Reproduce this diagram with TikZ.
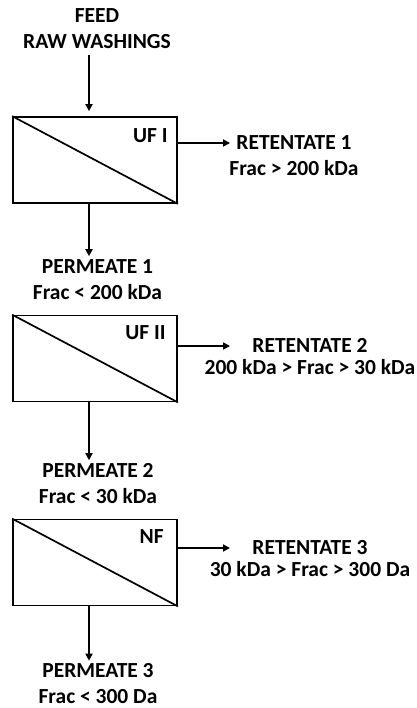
\documentclass[tikz,border=0pt]{standalone}
\usepackage{fontspec}
\setmainfont{Carlito}
\usetikzlibrary{arrows.meta}

\begin{document}
\begin{tikzpicture}[x=1pt,y=-1pt,
    unit/.style={draw,line width=1.7pt,minimum width=164pt,minimum height=86pt,inner sep=0pt},
    lbl/.style={font=\bfseries\fontsize{21.5}{26}\selectfont,align=center,inner sep=0pt},
    tag/.style={font=\bfseries\fontsize{21.5}{26}\selectfont,inner sep=0pt,anchor=base east},
    flow/.style={line width=1.7pt,-{Triangle[length=7pt,width=7pt]}}]
  \useasboundingbox (0,0) rectangle (416,708);
  \coordinate (ax) at (89,0);

  \node[lbl] (feed) at (97,29) {FEED\\RAW WASHINGS};

  \node[unit] (uf1) at (95,160) {};
  \draw[line width=1.7pt] (uf1.north west) -- (uf1.south east);
  \node[tag] (t1) at ([xshift=-10pt,yshift=-26pt]uf1.north east) {UF I};
  \node[lbl] (ret1) at (294,156) {RETENTATE 1\\Frac > 200 kDa};
  \node[lbl] (perm1) at (97.5,279.5) {PERMEATE 1\\Frac < 200 kDa};

  \node[unit] (uf2) at (95,358.5) {};
  \draw[line width=1.7pt] (uf2.north west) -- (uf2.south east);
  \node[tag] (t2) at ([xshift=-12pt,yshift=-25pt]uf2.north east) {UF II};
  \node[lbl] (ret2) at (310,357) {RETENTATE 2\\[-4pt]200 kDa > Frac > 30 kDa};
  \node[lbl] (perm2) at (98,483.5) {PERMEATE 2\\Frac < 30 kDa};

  \node[unit] (nf) at (95,562.5) {};
  \draw[line width=1.7pt] (nf.north west) -- (nf.south east);
  \node[tag] (t3) at ([xshift=-14pt,yshift=-25pt]nf.north east) {NF};
  \node[lbl] (ret3) at (310,559) {RETENTATE 3\\[-4pt]30 kDa > Frac > 300 Da};
  \node[lbl] (perm3) at (98,684) {PERMEATE 3\\Frac < 300 Da};

  \coordinate (r1) at (230,143);
  \coordinate (r2) at (230,346);
  \coordinate (r3) at (230,548);

  \draw[flow,shorten <=6pt,shorten >=5pt] (feed.south -| ax) -- (uf1.north -| ax);
  \draw[flow] (uf1.east |- r1) -- (r1);
  \draw[flow,shorten >=3pt] (uf1.south -| ax) -- (perm1.north -| ax);
  \draw[flow] (uf2.east |- r2) -- (r2);
  \draw[flow,shorten >=3pt] (uf2.south -| ax) -- (perm2.north -| ax);
  \draw[flow] (nf.east |- r3) -- (r3);
  \draw[flow,shorten >=3pt] (nf.south -| ax) -- (perm3.north -| ax);
\end{tikzpicture}
\end{document}
